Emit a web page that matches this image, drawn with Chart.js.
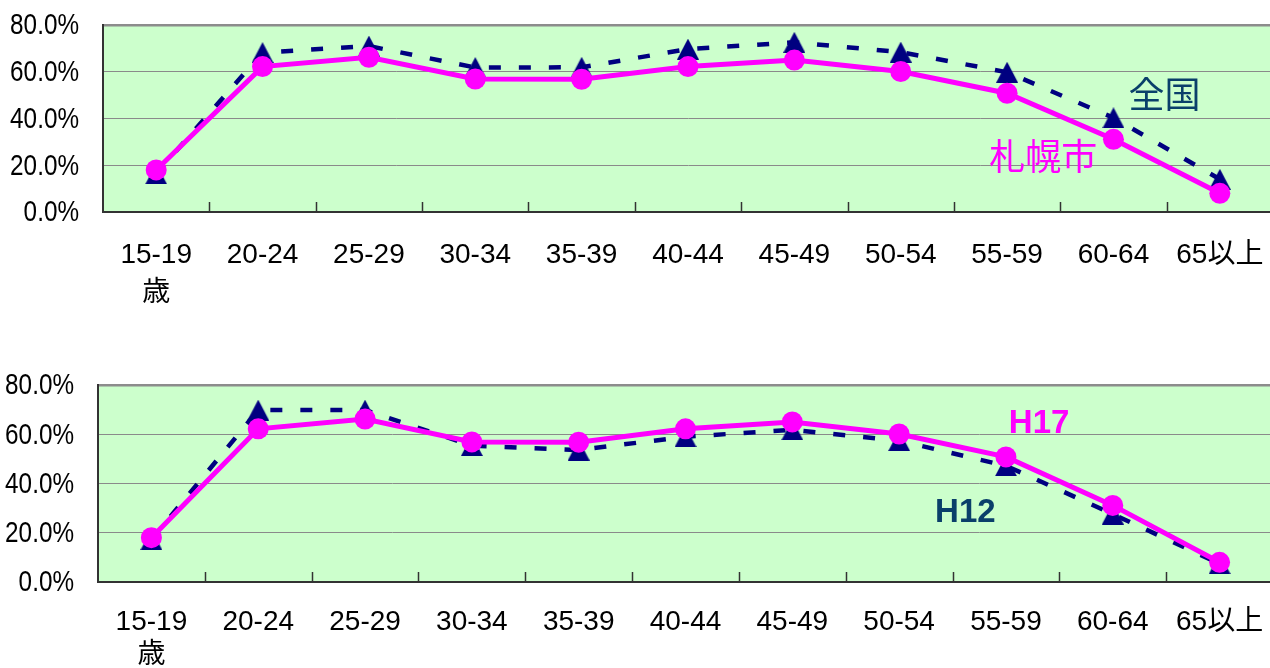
<!DOCTYPE html>
<html lang="ja">
<head>
<meta charset="utf-8">
<title>年齢別労働力率</title>
<script src="https://cdn.jsdelivr.net/npm/chart.js@4.4.1/dist/chart.umd.min.js"></script>
<style>
  html, body { margin: 0; padding: 0; background: #ffffff; overflow: hidden; width: 1270px; height: 668px; }
  .wrap { position: absolute; left: 0; width: 1284px; height: 334px; }
  #top { top: 0; }
  #bottom { top: 334px; }
  canvas { display: block; }
</style>
</head>
<body>
<div class="wrap" id="top"><canvas id="c1" width="1284" height="334"></canvas></div>
<div class="wrap" id="bottom"><canvas id="c2" width="1284" height="334"></canvas></div>
<script>
// Age groups (first label carries the unit on a second line)
const ageGroups = [['15-19', '歳'], '20-24', '25-29', '30-34', '35-39', '40-44', '45-49', '50-54', '55-59', '60-64', '65以上'];

// Labour force participation rate (%)
const sapporoH17 = [18.0, 62.2, 66.2, 56.9, 56.8, 62.2, 65.0, 60.1, 50.8, 31.1, 8.0];
const nationalH17 = [16.3, 68.2, 71.0, 61.8, 61.9, 69.7, 72.6, 68.4, 59.8, 40.3, 14.0];
const sapporoH12 = [17.2, 69.8, 69.8, 55.4, 53.6, 59.0, 61.8, 57.4, 47.2, 27.6, 7.4];

const yTicks = [0, 20, 40, 60, 80];

const PLOT_BG = '#CCFFCC';
const MAGENTA = '#FF00FF';
const NAVY = '#000080';
const LABEL_BLUE = '#0A3F6A';

// Centered triangle marker
function triangleMarker(w, h, color) {
  const c = document.createElement('canvas');
  c.width = w; c.height = h;
  const g = c.getContext('2d');
  g.fillStyle = color;
  g.beginPath();
  g.moveTo(w / 2, 0);
  g.lineTo(w, h);
  g.lineTo(0, h);
  g.closePath();
  g.fill();
  return c;
}
const tri = triangleMarker(22, 21, NAVY);

// Plot area fill and inward category tick marks
const plotFrame = {
  id: 'plotFrame',
  beforeDraw(chart) {
    const a = chart.chartArea, ctx = chart.ctx;
    ctx.save();
    ctx.fillStyle = PLOT_BG;
    ctx.fillRect(a.left, a.top, a.right - a.left, a.bottom - a.top);
    ctx.restore();
  },
  afterDatasetsDraw(chart) {
    const a = chart.chartArea, ctx = chart.ctx, xs = chart.scales.x;
    ctx.save();
    ctx.strokeStyle = '#333333';
    ctx.lineWidth = 1.5;
    for (let i = 0; i < ageGroups.length; i++) {
      const px = Math.round(xs.getPixelForValue(i + 0.5)) + 0.5;
      ctx.beginPath();
      ctx.moveTo(px, a.bottom);
      ctx.lineTo(px, a.bottom - 10);
      ctx.stroke();
    }
    ctx.restore();
  }
};

// Narrow percentage labels on the value axis
const yLabels = {
  id: 'yLabels',
  afterDraw(chart) {
    const ctx = chart.ctx, ys = chart.scales.y;
    const right = chart.chartArea.left - 24;
    ctx.save();
    ctx.font = '30px "Liberation Sans", Arial, sans-serif';
    ctx.fillStyle = '#000000';
    ctx.textAlign = 'right';
    ctx.textBaseline = 'middle';
    yTicks.forEach(v => {
      const y = ys.getPixelForValue(v) + 1;
      ctx.save();
      ctx.translate(right, y);
      ctx.scale(0.81, 1);
      ctx.fillText(v.toFixed(1) + '%', 0, 0);
      ctx.restore();
    });
    ctx.restore();
  }
};

// Series name labels placed in data space
const seriesNames = {
  id: 'seriesNames',
  afterDatasetsDraw(chart, args, opts) {
    const ctx = chart.ctx, xs = chart.scales.x, ys = chart.scales.y;
    ctx.save();
    ctx.textAlign = 'center';
    ctx.textBaseline = 'middle';
    (opts.items || []).forEach(it => {
      ctx.font = it.font;
      ctx.fillStyle = it.color;
      ctx.fillText(it.text, xs.getPixelForValue(it.at), ys.getPixelForValue(it.value));
    });
    ctx.restore();
  }
};

function makeChart(canvasId, cfg) {
  return new Chart(document.getElementById(canvasId), {
    type: 'line',
    data: {
      labels: ageGroups,
      datasets: [
        {
          label: cfg.solidName,
          data: cfg.solid,
          borderColor: MAGENTA,
          backgroundColor: MAGENTA,
          borderWidth: 5,
          pointStyle: 'circle',
          pointRadius: 10.5,
          pointBorderWidth: 0,
          pointBackgroundColor: MAGENTA,
          tension: 0,
          order: 0
        },
        {
          label: cfg.dashName,
          data: cfg.dashed,
          borderColor: NAVY,
          backgroundColor: NAVY,
          borderWidth: 4.5,
          borderDash: [12, 18],
          pointStyle: tri,
          pointRadius: 11,
          pointBorderWidth: 0,
          tension: 0,
          order: 1
        }
      ]
    },
    options: {
      responsive: false,
      devicePixelRatio: 1,
      animation: false,
      events: [],
      layout: { padding: { top: cfg.padTop, right: 0, left: 0, bottom: 0 } },
      plugins: {
        legend: { display: false },
        tooltip: { enabled: false },
        seriesNames: { items: cfg.names }
      },
      scales: {
        x: {
          type: 'category',
          offset: true,
          grid: { display: false, drawTicks: false },
          border: { display: true, color: '#333333', width: 2 },
          ticks: {
            color: '#000000',
            padding: 24,
            maxRotation: 0,
            autoSkip: false,
            font: { family: '"Liberation Sans", "Noto Sans CJK JP", sans-serif', size: 28, lineHeight: cfg.lineHeight }
          },
          afterFit(scale) {
            scale.height = cfg.xHeight;
            scale.paddingLeft = 0;
            scale.paddingRight = 0;
          }
        },
        y: {
          min: 0,
          max: 80,
          afterBuildTicks(scale) { scale.ticks = yTicks.map(v => ({ value: v })); },
          grid: {
            color: (c) => (c.tick && c.tick.value === 80) ? '#8C8C8C' : '#8A8A8A',
            lineWidth: (c) => (c.tick && c.tick.value === 80) ? 2.5 : 1,
            drawTicks: false
          },
          border: { display: true, color: '#333333', width: 2 },
          ticks: { display: false },
          afterFit(scale) {
            scale.width = cfg.yWidth;
            scale.paddingTop = 0;
            scale.paddingBottom = 0;
          }
        }
      }
    },
    plugins: [plotFrame, yLabels, seriesNames]
  });
}

makeChart('c1', {
  solid: sapporoH17, solidName: '札幌市',
  dashed: nationalH17, dashName: '全国',
  padTop: 25, xHeight: 122, yWidth: 103, lineHeight: 38 / 28,
  names: [
    { text: '全国', at: 9.48, value: 50.3, color: LABEL_BLUE, font: '36px "Noto Sans CJK JP", sans-serif' },
    { text: '札幌市', at: 8.34, value: 24.0, color: MAGENTA, font: '36px "Noto Sans CJK JP", sans-serif' }
  ]
});

makeChart('c2', {
  solid: sapporoH17, solidName: 'H17',
  dashed: sapporoH12, dashName: 'H12',
  padTop: 51, xHeight: 86, yWidth: 98, lineHeight: 33 / 28,
  names: [
    { text: 'H17', at: 8.31, value: 64.2, color: MAGENTA, font: 'bold 33px "Liberation Sans", Arial, sans-serif' },
    { text: 'H12', at: 7.62, value: 28.1, color: LABEL_BLUE, font: 'bold 33px "Liberation Sans", Arial, sans-serif' }
  ]
});
</script>
</body>
</html>
